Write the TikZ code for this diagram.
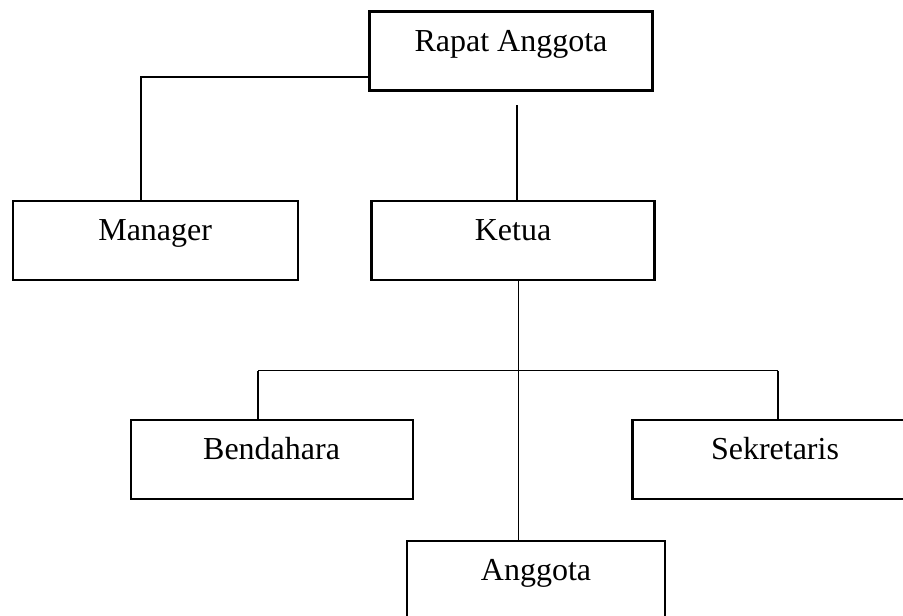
\documentclass[tikz,border=0pt]{standalone}
\usepackage{fontspec}
\setmainfont{Liberation Serif}
\begin{document}
\begin{tikzpicture}[x=1pt,y=-1pt,
  orgbox/.style={draw=black, line width=2.2pt, rectangle, inner sep=0pt,
    minimum height=79pt, text height=22pt, text depth=22pt,
    font=\fontsize{32}{38}\selectfont},
  link/.style={draw=black, line width=1.9pt}]
\useasboundingbox (0,0) rectangle (903,616);
\clip (0,0) rectangle (903,616);
\fill[white] (0,0) rectangle (903,616);
\node[orgbox, minimum width=283pt] (rapat) at (511,51) {Rapat Anggota};
\node[orgbox, minimum width=285pt] (manager) at (155.2,240.7) {Manager};
\node[orgbox, minimum width=283pt] (ketua) at (513,240.2) {Ketua};
\node[orgbox, minimum width=282pt] (bendahara) at (271.6,459.2) {Bendahara};
\node[orgbox, minimum width=285pt] (sekretaris) at (775,459.2) {Sekretaris};
\node[orgbox, minimum width=258.5pt, minimum height=80pt] (anggota) at (536,580.7) {Anggota};
\coordinate (m1) at (141,76.7);
\coordinate (k0) at (516.7,105);
\coordinate (kd) at (518.5,0);
\coordinate (hb) at (258.3,370.5);
\coordinate (hs) at (778.3,370.5);
\draw[link] (rapat.west |- m1) -| (manager.north -| m1);
\draw[link] (k0) -- (k0 |- ketua.north);
\draw[link] (ketua.south -| kd) -- (anggota.north -| kd);
\draw[link] (hb) -- (hs);
\draw[link] (hb) -- (bendahara.north -| hb);
\draw[link] (hs) -- (sekretaris.north -| hs);
\end{tikzpicture}
\end{document}
